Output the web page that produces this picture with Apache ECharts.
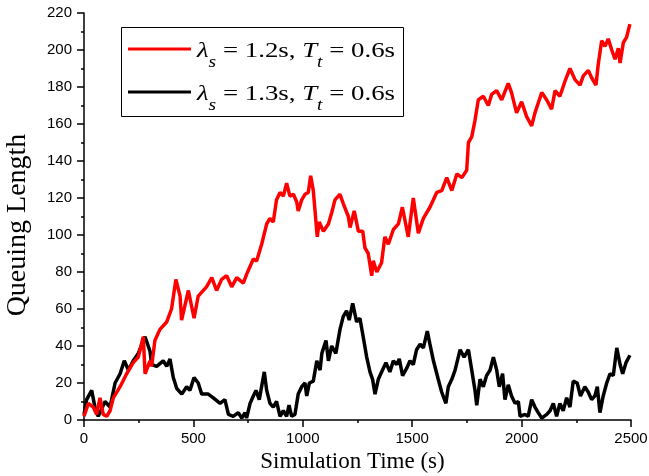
<!DOCTYPE html>
<html>
<head>
<meta charset="utf-8">
<script src="https://cdn.jsdelivr.net/npm/echarts@6/dist/echarts.min.js"></script>
<style>
  html, body { margin: 0; padding: 0; background: #fff; }
  #chart { width: 649px; height: 476px; }
</style>
</head>
<body>
<div id="chart"></div>
<script>
// Queue length over simulation time for two service intervals, [time (s), queue length]
const queueLambda12 = [
  [0,2],[20,9],[42,7],[58,3],[73,12],[88,3],[104,2],[119,5],[134,12],[165,18],[195,25],
  [225,31],[248,34],[271,45],[279,25],[302,32],[309,29],[324,43],[347,49],[378,53],[400,60],
  [420,76],[439,67],[446,54],[477,70],[503,55],[522,67],[560,72],[584,77],[606,70],[629,76],
  [652,78],[675,72],[698,77],[728,74],[744,79],[774,87],[789,86],[812,95],[835,106],[850,109],
  [865,107],[880,119],[896,123],[911,121],[926,128],[941,121],[957,122],[972,118],[979,113],
  [995,119],[1010,122],[1025,123],[1036,132],[1048,124],[1066,99],[1075,107],[1094,102],
  [1117,106],[1132,112],[1147,119],[1170,122],[1185,117],[1208,110],[1216,104],[1235,113],
  [1254,102],[1274,102],[1284,93],[1299,90],[1315,78],[1322,86],[1338,80],[1360,85],[1375,99],
  [1391,95],[1414,103],[1437,106],[1455,115],[1482,99],[1505,120],[1528,101],[1551,109],
  [1581,115],[1612,123],[1635,124],[1658,131],[1681,124],[1704,133],[1727,131],[1749,135],
  [1757,150],[1772,153],[1787,162],[1802,173],[1825,175],[1848,170],[1863,176],[1886,178],
  [1909,173],[1939,182],[1954,177],[1977,166],[2000,172],[2023,164],[2046,159],[2061,166],
  [2092,177],[2115,173],[2137,168],[2153,178],[2175,175],[2198,183],[2221,190],[2244,184],
  [2267,181],[2282,186],[2305,189],[2320,185],[2340,181],[2350,192],[2366,205],[2381,202],
  [2396,206],[2412,200],[2427,195],[2442,201],[2450,193],[2465,204],[2480,207],[2495,214]
];

const queueLambda13 = [
  [0,3],[12,11],[35,16],[50,7],[65,2],[96,10],[119,7],[142,20],[165,25],[184,32],[203,27],
  [225,32],[248,36],[279,45],[302,37],[309,30],[332,29],[362,32],[378,29],[393,33],[408,23],
  [424,17],[447,14],[469,18],[484,16],[503,23],[522,20],[538,14],[568,14],[591,12],[622,9],
  [644,11],[660,3],[682,2],[705,4],[721,1],[736,4],[743,1],[759,9],[774,13],[786,16],[801,11],
  [824,26],[835,16],[850,9],[865,7],[880,10],[896,2],[911,5],[926,2],[937,8],[949,2],[964,3],
  [979,14],[995,18],[1010,20],[1018,13],[1030,20],[1048,21],[1064,32],[1079,27],[1087,36],
  [1106,43],[1117,32],[1132,40],[1151,36],[1170,49],[1185,56],[1200,59],[1212,54],[1228,63],
  [1246,53],[1261,55],[1276,45],[1292,34],[1307,26],[1319,22],[1330,14],[1345,22],[1368,28],
  [1380,31],[1398,26],[1414,32],[1429,30],[1441,33],[1456,24],[1475,28],[1490,32],[1505,30],
  [1520,38],[1536,41],[1551,39],[1569,48],[1581,41],[1597,32],[1619,22],[1635,15],[1654,9],
  [1665,18],[1681,22],[1696,27],[1719,38],[1737,34],[1757,38],[1772,27],[1787,16],[1795,8],
  [1810,22],[1825,18],[1840,24],[1856,27],[1871,34],[1886,27],[1898,18],[1913,25],[1924,11],
  [1939,19],[1954,13],[1970,9],[1985,10],[1993,2],[2015,3],[2030,2],[2046,11],[2061,7],
  [2076,4],[2092,1],[2115,3],[2130,5],[2145,9],[2160,2],[2175,9],[2190,5],[2206,12],[2221,7],
  [2236,21],[2254,20],[2269,13],[2289,18],[2305,15],[2320,11],[2335,13],[2346,18],[2358,4],
  [2373,13],[2389,20],[2404,25],[2419,24],[2435,39],[2450,30],[2462,25],[2477,31],[2495,35]
];

// Legend labels
const seriesNames = ['λs = 1.2s, Tt = 0.6s', 'λs = 1.3s, Tt = 0.6s'];
const lambdaLabels = ['1.2s', '1.3s'];
const ttLabels = ['0.6s', '0.6s'];

const seriesColors = ['#ff0000', '#000000'];
const serifName = 'Liberation Serif';
const serif = '"Liberation Serif", "Times New Roman", serif';
const sans = '"Liberation Sans", Arial, sans-serif';

// --- Legend box, drawn with graphic elements so the subscripts sit below the baseline ---
const measureCtx = document.createElement('canvas').getContext('2d');
function fontOf(style, size) { return style + ' normal ' + size + 'px "' + serifName + '"'; }
function textWidth(str, font) { measureCtx.font = font; return measureCtx.measureText(str).width; }

const MAIN_SIZE = 22, SUB_SIZE = 16;
const legendBox = { x: 121.5, y: 27.5, w: 282, h: 89 };
const legendLineX = [128, 191];
const legendRowY = [49, 92];          // centre of each legend line sample
const legendTextX = 197, legendTextWidth = 198;

function legendRow(i) {
  const base = legendRowY[i] + 9.5;   // alphabetic baseline of the main text
  const subBase = base + 9.5;
  const pieces = [
    { t: 'λ', s: 'italic', size: MAIN_SIZE, sub: false },
    { t: 's', s: 'italic', size: SUB_SIZE, sub: true },
    { t: ' = ' + lambdaLabels[i] + ', ', s: 'normal', size: MAIN_SIZE, sub: false },
    { t: 'T', s: 'italic', size: MAIN_SIZE, sub: false },
    { t: 't', s: 'italic', size: SUB_SIZE, sub: true },
    { t: ' = ' + ttLabels[i], s: 'normal', size: MAIN_SIZE, sub: false }
  ];
  let x = 0;
  const children = pieces.map(p => {
    const font = fontOf(p.s, p.size);
    const el = {
      type: 'text',
      x: x,
      y: (p.sub ? subBase : base) - 0.3375 * p.size,
      z: 12,
      style: {
        text: p.t,
        fontFamily: serif,
        fontSize: p.size,
        fontStyle: p.s,
        fill: '#000',
        align: 'left',
        verticalAlign: 'middle'
      }
    };
    x += textWidth(p.t, font);
    return el;
  });
  const k = x > 0 ? legendTextWidth / x : 1;
  return { type: 'group', x: legendTextX, y: 0, scaleX: k, z: 12, children: children };
}

const legendGraphic = [
  {
    type: 'rect',
    shape: { x: legendBox.x, y: legendBox.y, width: legendBox.w, height: legendBox.h },
    style: { fill: '#fff', stroke: '#000', lineWidth: 1 },
    z: 10
  }
].concat(
  legendRowY.map((y, i) => ({
    type: 'line',
    shape: { x1: legendLineX[0], y1: y, x2: legendLineX[1], y2: y },
    style: { stroke: seriesColors[i], lineWidth: 3 },
    z: 11
  })),
  legendRowY.map((y, i) => legendRow(i))
);

const chart = echarts.init(document.getElementById('chart'), null, { renderer: 'canvas' });

const axisCommon = {
  axisLine: { show: true, onZero: false, lineStyle: { color: '#000', width: 1.5 } },
  axisTick: { show: true, inside: false, length: 7, lineStyle: { color: '#000', width: 1.5 } },
  minorTick: { show: true, splitNumber: 2, length: 3, lineStyle: { color: '#000', width: 1.5 } },
  splitLine: { show: false }
};

chart.setOption({
  animation: false,
  backgroundColor: '#fff',
  grid: {
    left: 84, top: 13, width: 547, height: 407,
    containLabel: false,
    outerBoundsMode: 'none'
  },
  xAxis: Object.assign({}, axisCommon, {
    type: 'value',
    min: 0, max: 2500, interval: 500,
    axisLabel: { color: '#000', fontFamily: sans, fontSize: 15, margin: 11, formatter: v => String(v) },
    name: 'Simulation Time (s)',
    nameLocation: 'middle',
    nameGap: 29,
    nameTextStyle: { color: '#000', fontFamily: serif, fontSize: 23, padding: [0, 10, 0, 0] }
  }),
  yAxis: Object.assign({}, axisCommon, {
    type: 'value',
    min: 0, max: 220, interval: 20,
    axisLabel: { color: '#000', fontFamily: sans, fontSize: 15, margin: 12, formatter: v => String(v) },
    name: 'Queuing Length',
    nameLocation: 'middle',
    nameGap: 52,
    nameTextStyle: { color: '#000', fontFamily: serif, fontSize: 28, padding: [0, 17, 0, 0] }
  }),
  graphic: { elements: legendGraphic },
  series: [
    {
      name: seriesNames[1],
      type: 'line',
      data: queueLambda13,
      showSymbol: false,
      symbol: 'none',
      lineStyle: { color: seriesColors[1], width: 3.5 },
      itemStyle: { color: seriesColors[1] },
      z: 2
    },
    {
      name: seriesNames[0],
      type: 'line',
      data: queueLambda12,
      showSymbol: false,
      symbol: 'none',
      lineStyle: { color: seriesColors[0], width: 3.5 },
      itemStyle: { color: seriesColors[0] },
      z: 3
    }
  ]
});
</script>
</body>
</html>
